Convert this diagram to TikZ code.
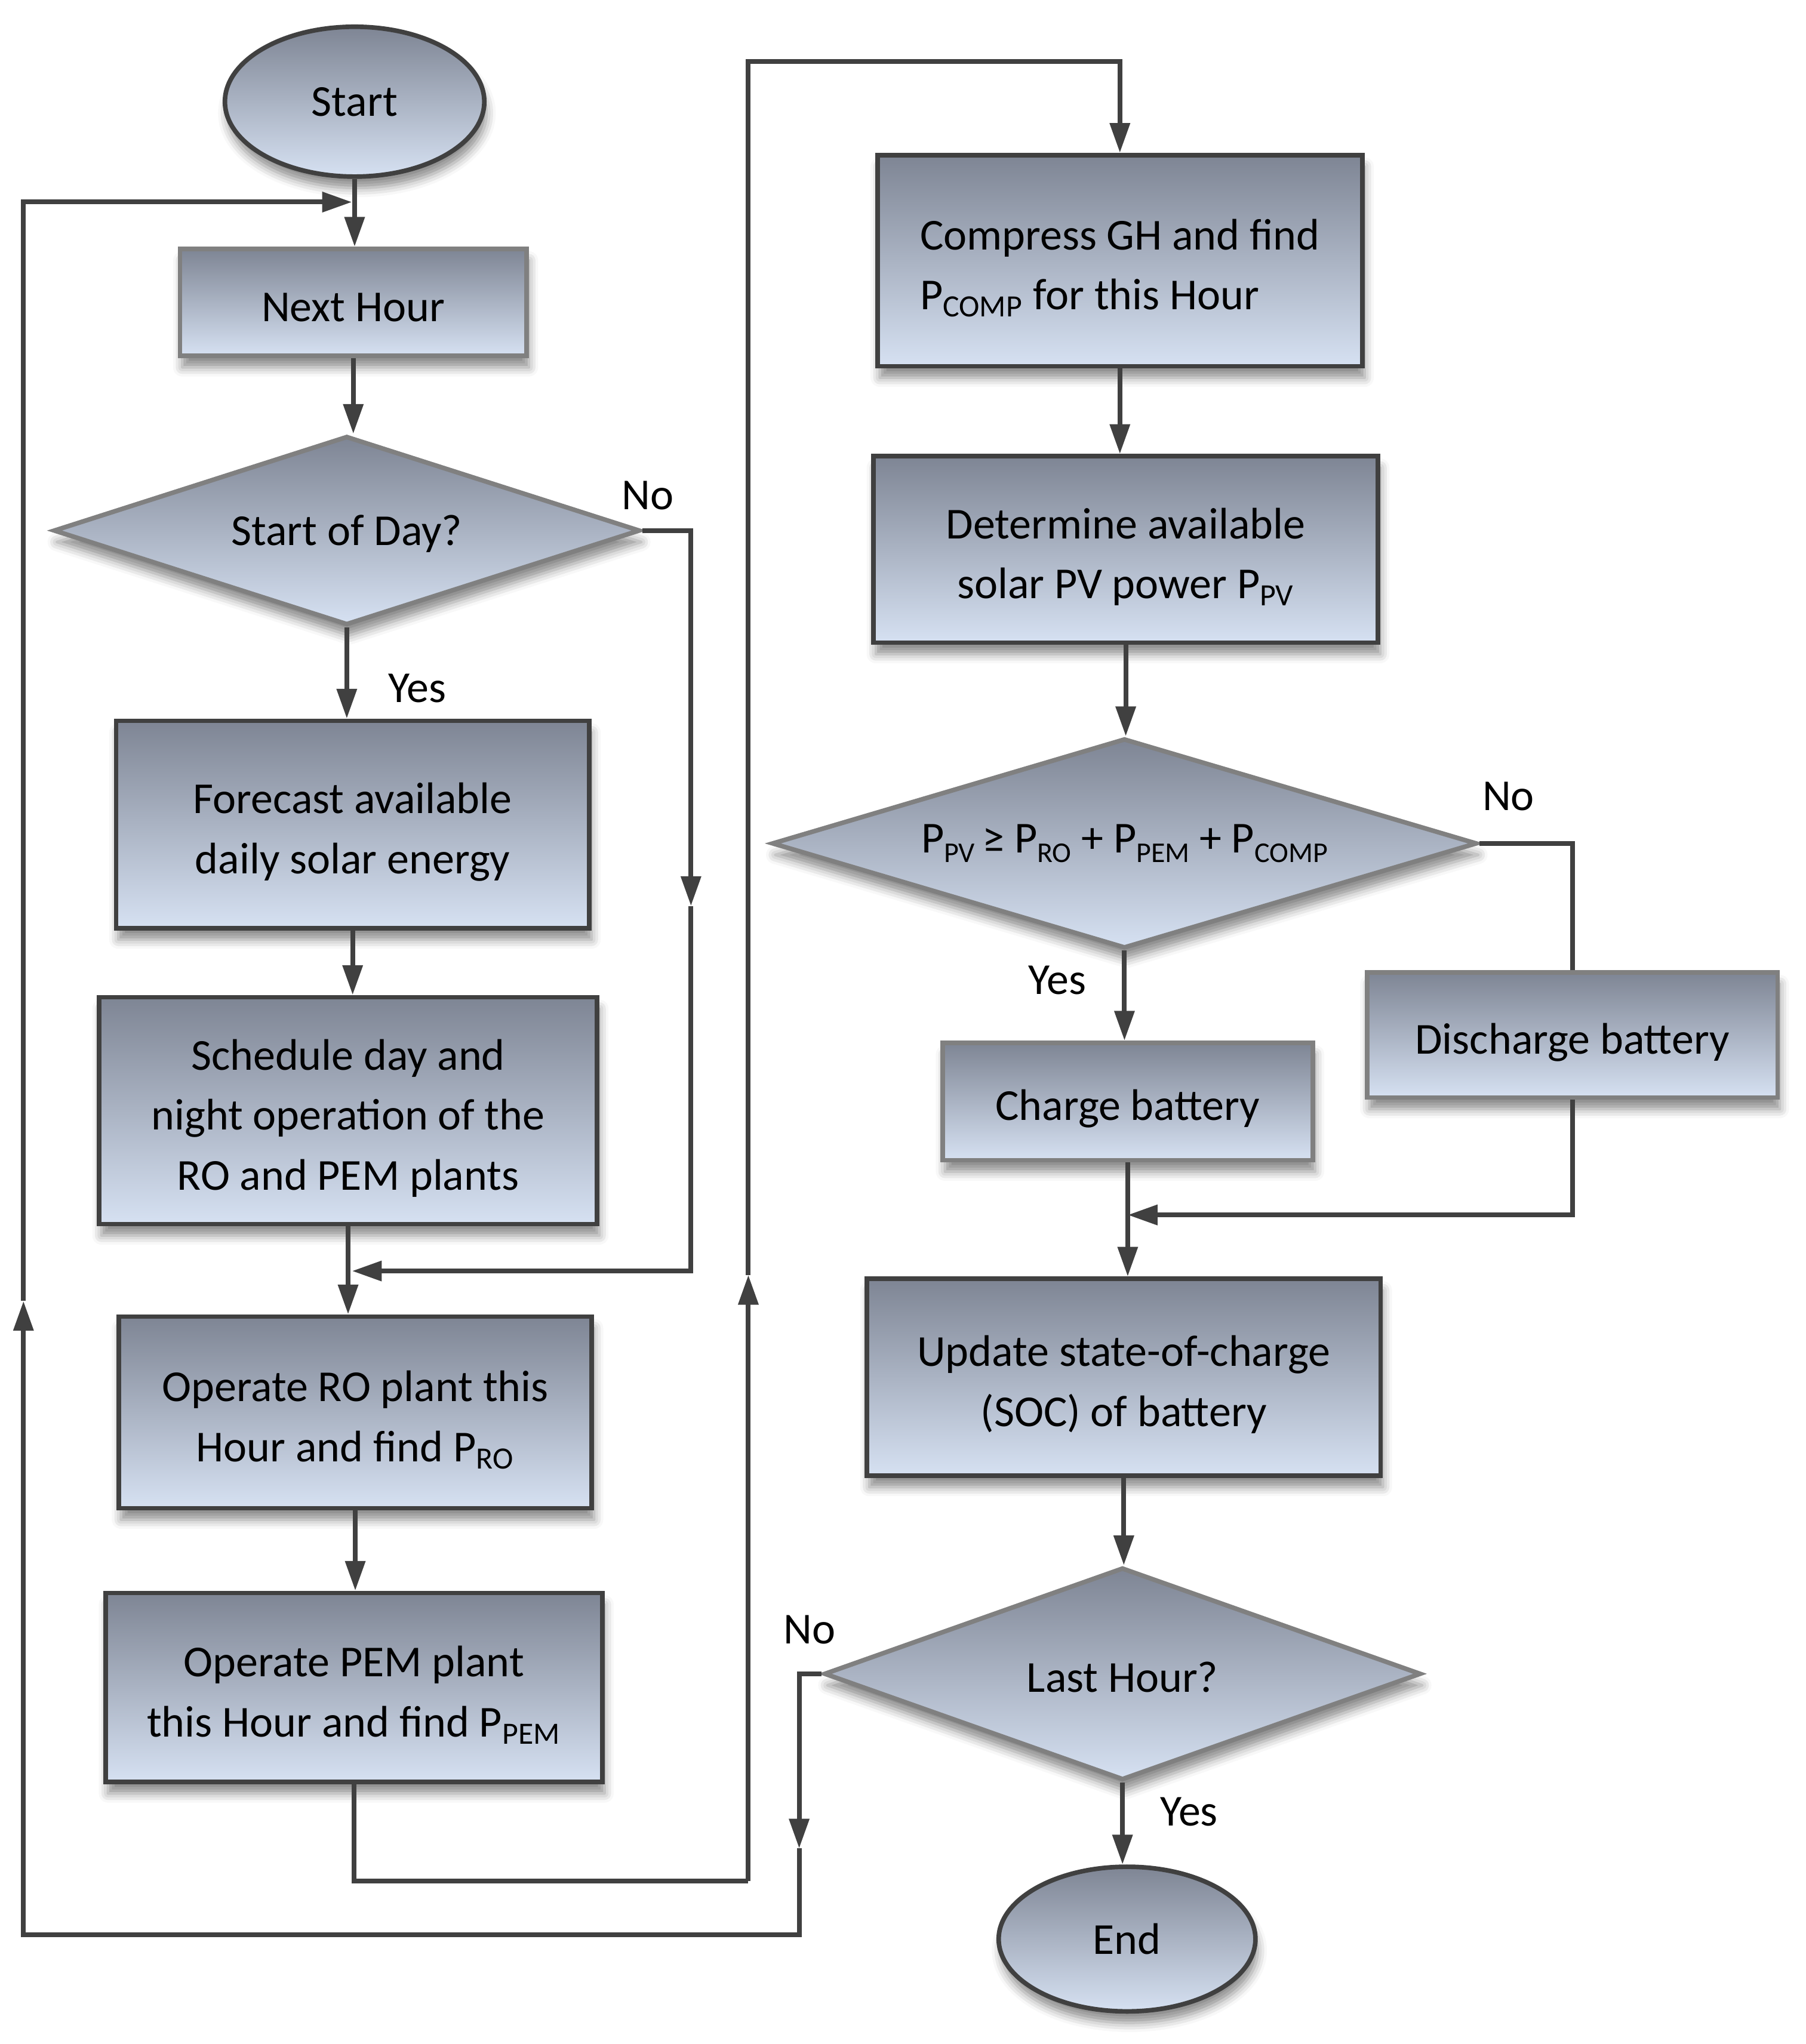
\documentclass[tikz,border=0pt]{standalone}
\usepackage{fontspec}
\setmainfont{Carlito}
\usetikzlibrary{shapes.geometric,arrows.meta,shadows.blur,calc}
\definecolor{gtop}{RGB}{126,133,148}
\definecolor{gbot}{RGB}{214,225,242}
\definecolor{dk}{RGB}{64,64,64}
\definecolor{md}{RGB}{128,128,128}
\newcommand\dsub[1]{\raisebox{-0.45ex}{\fontsize{12.5}{12.5}\selectfont #1}}
\newcommand\bsub[1]{\textsubscript{#1}}
\newcommand\st{\rule{0pt}{19.8pt}}
\begin{document}
\begin{tikzpicture}[x=0.02cm,y=-0.02cm,
  every node/.style={font=\fontsize{19.3}{26.2}\selectfont, inner sep=0pt},
  shd/.style={blur shadow={shadow xshift=1pt, shadow yshift=-5pt, shadow blur radius=4pt, shadow opacity=45}},
  fillg/.style={top color=gtop, bottom color=gbot},
  pbox/.style={rectangle, fillg, shd, draw=dk, line width=2pt, align=center},
  gbox/.style={pbox, draw=md},
  dia/.style={diamond, fillg, shd, draw=md, line width=2pt, align=center},
  term/.style={ellipse, fillg, shd, draw=dk, line width=2pt},
  conn/.style={draw=dk, line width=2.1pt},
  arr/.style={conn, -{Triangle[length=13pt,width=8.5pt]}},
  lbl/.style={font=\fontsize{19.3}{22}\selectfont}
]
\useasboundingbox (0,0) rectangle (1385,1568);

% left column
\node[term, minimum width=3.98cm, minimum height=2.30cm] (start) at (272,78) {Start};
\node[gbox, minimum width=5.32cm, minimum height=1.64cm] (next) at (271,232) {\rule{0pt}{17pt}Next Hour};
\node[dia, shape aspect=3.1, minimum width=9.00cm, minimum height=2.90cm] (sod) at (266,407) {\rule{0pt}{16pt}Start of Day?};
\node[pbox, minimum width=7.26cm, minimum height=3.18cm] (fore) at (270.5,632.5) {\st Forecast available\\daily solar energy};
\node[pbox, minimum width=7.64cm, minimum height=3.48cm] (sched) at (267,852) {\st Schedule day and\\night operation of the\\RO and PEM plants};
\node[pbox, minimum width=7.26cm, minimum height=2.94cm] (oro) at (272.5,1083.5) {\st Operate RO plant this\\Hour and find P\bsub{RO}};
\node[pbox, minimum width=7.62cm, minimum height=2.90cm] (opem) at (271.5,1294.5) {\st Operate PEM plant\\this Hour and find P\bsub{PEM}};

% right column
\node[pbox, align=left, minimum width=7.44cm, minimum height=3.24cm] (comp) at (859,200) {\st Compress GH and find\\P\bsub{COMP} for this Hour};
\node[pbox, minimum width=7.74cm, minimum height=2.86cm] (det) at (863.5,421.5) {\st Determine available\\solar PV power P\bsub{PV}};
\node[dia, shape aspect=3.36, minimum width=10.82cm, minimum height=3.22cm] (pv) at (862.5,647) {P\dsub{PV}\,≥ P\dsub{RO} + P\dsub{PEM} + P\dsub{COMP}};
\node[gbox, minimum width=5.68cm, minimum height=1.80cm] (chg) at (865,845) {\st Charge battery};
\node[gbox, minimum width=6.30cm, minimum height=1.92cm] (dis) at (1206,794) {\st Discharge battery};
\node[pbox, minimum width=7.88cm, minimum height=3.02cm] (upd) at (862,1056.5) {\st Update state-of-charge\\(SOC) of battery};
\node[dia, shape aspect=2.81, minimum width=9.16cm, minimum height=3.26cm] (last) at (861,1284) {\rule{0pt}{16pt}Last Hour?};
\node[term, minimum width=3.94cm, minimum height=2.22cm] (end) at (864.5,1487.5) {End};

% labels
\node[lbl] (no1) at (497,380) {No};
\node[lbl] (yes1) at (320,528) {Yes};
\node[lbl] (no2) at (1157,611) {No};
\node[lbl] (yes2) at (811,752) {Yes};
\node[lbl] (no3) at (621,1250) {No};
\node[lbl] (yes3) at (912,1390) {Yes};

% helper coordinates
\coordinate (j0) at (270,155);
\coordinate (m1) at (530,695);
\coordinate (j1) at (270,975);
\coordinate (b1) at (574,1443);
\coordinate (m2) at (574,978);
\coordinate (t1) at (574,47);
\coordinate (m3) at (613,1418);
\coordinate (b2) at (18,1484);
\coordinate (m4) at (18,998);
\coordinate (j2) at (865,932);

% straight connectors
\draw[arr] (start.south) -- (start.south |- next.north);
\draw[arr] (next.south) -- (next.south |- sod.north);
\draw[arr] (sod.south) -- (sod.south |- fore.north);
\draw[arr] (fore.south) -- (fore.south |- sched.north);
\draw[arr] (sched.south) -- (sched.south |- oro.north);
\draw[arr] (oro.south) -- (oro.south |- opem.north);
\draw[arr] (comp.south) -- (comp.south |- det.north);
\draw[arr] (det.south) -- (det.south |- pv.north);
\draw[arr] (pv.south) -- (pv.south |- chg.north);
\draw[arr] (chg.south) -- (chg.south |- upd.north);
\draw[arr] (upd.south) -- (upd.south |- last.north);
\draw[arr] (last.south) -- (last.south |- end.north);

% start of day: No branch
\draw[arr] (sod.east) -| (m1);
\draw[arr] (m1) |- (j1);

% PEM to compress
\draw[conn] (opem.south) |- (b1);
\draw[arr] (b1) -- (m2);
\draw[arr] (m2) -- (t1) -| (comp.north);

% PV decision: No branch
\draw[conn] (pv.east) -| (dis.north);
\draw[arr] (dis.south) |- (j2);

% Last hour: No loop
\draw[arr] (last.west) -| (m3);
\draw[arr] (m3) |- (b2) -- (m4);
\draw[arr] (m4) |- (j0);
\end{tikzpicture}
\end{document}
